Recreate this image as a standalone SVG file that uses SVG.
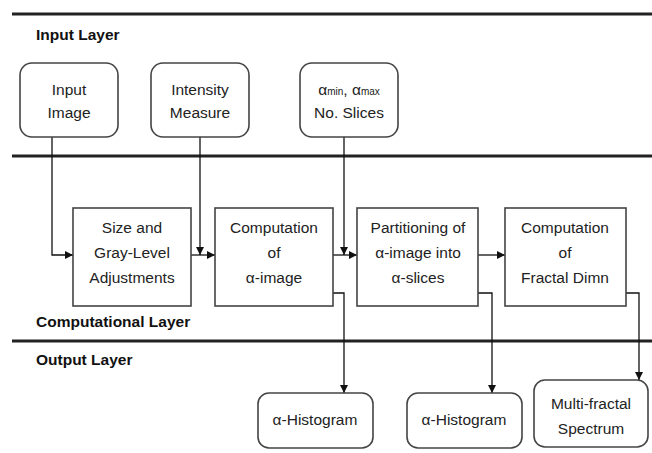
<svg xmlns="http://www.w3.org/2000/svg" width="652" height="453" viewBox="0 0 652 453">
<defs>
<style>
.layer{stroke:#222;stroke-width:3;fill:none}
.layerlbl{font-family:"Liberation Sans",Arial,sans-serif;font-weight:bold;font-size:15.5px;fill:#111}
.rbox{fill:#fff;stroke:#444;stroke-width:1.6}
.box{fill:#fff;stroke:#444;stroke-width:1.6}
.t{font-family:"Liberation Sans",Arial,sans-serif;font-size:15.5px;fill:#222;text-anchor:middle}
.c{stroke:#111;stroke-width:1.3;fill:none}
</style>
<marker id="ah" viewBox="0 0 10 10" refX="10" refY="5" markerWidth="8" markerHeight="8" markerUnits="userSpaceOnUse" orient="auto">
<path d="M0,0 L10,5 L0,10 z" fill="#111"/>
</marker>
</defs>
<rect width="652" height="453" fill="#fff"/>
<g id="layers">
<line class="layer" x1="12" y1="14" x2="652" y2="14"/>
<line class="layer" x1="12" y1="156" x2="652" y2="156"/>
<line class="layer" x1="12" y1="341" x2="652" y2="341"/>
<text class="layerlbl" x="36" y="40">Input Layer</text>
<text class="layerlbl" x="36" y="327">Computational Layer</text>
<text class="layerlbl" x="36" y="365">Output Layer</text>
</g>
<g id="connectors">
<polyline class="c" points="52,137 52,255 73,255" marker-end="url(#ah)"/>
<line class="c" x1="191" y1="255" x2="215" y2="255" marker-end="url(#ah)"/>
<line class="c" x1="200" y1="137" x2="200" y2="255" marker-end="url(#ah)"/>
<line class="c" x1="333" y1="255" x2="357" y2="255" marker-end="url(#ah)"/>
<line class="c" x1="344" y1="137" x2="344" y2="255" marker-end="url(#ah)"/>
<line class="c" x1="478" y1="255" x2="505" y2="255" marker-end="url(#ah)"/>
<polyline class="c" points="333,293 344,293 344,393" marker-end="url(#ah)"/>
<polyline class="c" points="478,293 492,293 492,393" marker-end="url(#ah)"/>
<polyline class="c" points="626,293 639,293 639,380" marker-end="url(#ah)"/>
</g>
<g id="input-image">
<rect class="rbox" x="20" y="63" width="98" height="74" rx="12"/>
<text class="t" x="69" y="95">Input</text>
<text class="t" x="69" y="118">Image</text>
</g>
<g id="intensity-measure">
<rect class="rbox" x="151" y="63" width="98" height="74" rx="12"/>
<text class="t" x="200" y="95">Intensity</text>
<text class="t" x="200" y="118">Measure</text>
</g>
<g id="alpha-params">
<rect class="rbox" x="300" y="63" width="98" height="74" rx="12"/>
<text class="t" x="349" y="95">α<tspan font-size="10">min</tspan>, α<tspan font-size="10">max</tspan></text>
<text class="t" x="349" y="118">No. Slices</text>
</g>
<g id="size-gray">
<rect class="box" x="73" y="208" width="118" height="98"/>
<text class="t" x="132" y="233">Size and</text>
<text class="t" x="132" y="258">Gray-Level</text>
<text class="t" x="132" y="283">Adjustments</text>
</g>
<g id="comp-alpha-image">
<rect class="box" x="215" y="208" width="118" height="98"/>
<text class="t" x="274" y="233">Computation</text>
<text class="t" x="274" y="258">of</text>
<text class="t" x="274" y="283">α-image</text>
</g>
<g id="partitioning">
<rect class="box" x="357" y="208" width="121" height="98"/>
<text class="t" x="418" y="233">Partitioning of</text>
<text class="t" x="418" y="258">α-image into</text>
<text class="t" x="418" y="283">α-slices</text>
</g>
<g id="comp-fractal">
<rect class="box" x="505" y="208" width="121" height="98"/>
<text class="t" x="565" y="233">Computation</text>
<text class="t" x="565" y="258">of</text>
<text class="t" x="565" y="283">Fractal Dimn</text>
</g>
<g id="histogram-1">
<rect class="rbox" x="258" y="393" width="115" height="55" rx="11"/>
<text class="t" x="315" y="425">α-Histogram</text>
</g>
<g id="histogram-2">
<rect class="rbox" x="407" y="393" width="115" height="55" rx="11"/>
<text class="t" x="464" y="425">α-Histogram</text>
</g>
<g id="multifractal">
<rect class="rbox" x="534" y="380" width="114" height="67" rx="11"/>
<text class="t" x="591" y="409">Multi-fractal</text>
<text class="t" x="591" y="434">Spectrum</text>
</g>
</svg>
